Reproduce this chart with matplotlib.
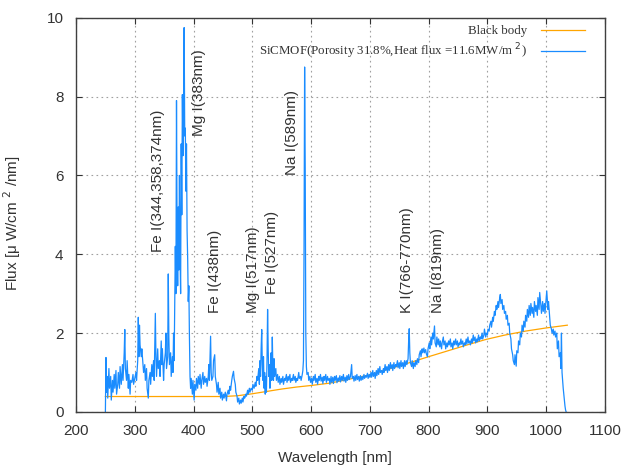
import matplotlib
matplotlib.use("Agg")
import matplotlib.pyplot as plt

# SiCMOF emission spectrum (nm, uW/cm2/nm)
wavelength = [
    250, 251, 252, 253, 254, 256, 257, 259, 260, 262, 263, 265, 266, 268, 269,
    271, 272, 274, 275, 277, 279, 280, 282, 283, 284, 286, 287, 289, 290, 292,
    293, 295, 297, 298, 300, 302, 303, 305, 306, 307, 308, 309, 311, 312, 314,
    315, 317, 318, 320, 321, 323, 324, 326, 327, 329, 330, 332, 333, 335, 336,
    337, 339, 340, 342, 343, 345, 346, 347, 349, 350, 352, 353, 354, 356, 357,
    358, 359, 361, 362, 364, 365, 366, 367, 368, 369, 370, 371, 372, 373, 374,
    375, 376, 377, 378, 379, 380, 381, 382, 383, 384, 385, 386, 387, 388, 389,
    390, 391, 392, 393, 394, 395, 396, 398, 399, 401, 402, 404, 405, 407, 408,
    410, 411, 413, 414, 416, 417, 419, 420, 422, 423, 425, 426, 427, 428, 429,
    430, 431, 433, 434, 436, 437, 439, 440, 442, 443, 445, 446, 448, 449, 451,
    452, 454, 456, 457, 459, 460, 462, 463, 465, 466, 468, 469, 471, 472, 474,
    475, 477, 478, 480, 481, 483, 484, 486, 487, 489, 490, 492, 493, 495, 496,
    498, 500, 501, 503, 505, 506, 508, 509, 511, 512, 513, 514, 515, 516, 517,
    518, 519, 520, 521, 522, 523, 524, 525, 526, 527, 528, 529, 530, 531, 532,
    533, 534, 535, 536, 537, 538, 540, 541, 543, 544, 546, 547, 549, 550, 552,
    553, 555, 556, 558, 559, 561, 562, 564, 565, 567, 568, 570, 571, 573, 574,
    576, 577, 579, 580, 582, 583, 585, 586, 587, 588, 589, 590, 591, 592, 593,
    595, 596, 598, 599, 601, 602, 604, 605, 607, 608, 610, 611, 613, 614, 616,
    617, 619, 620, 622, 623, 625, 626, 628, 629, 631, 632, 634, 635, 637, 638,
    640, 641, 643, 644, 646, 647, 649, 650, 652, 653, 655, 656, 658, 659, 661,
    662, 664, 665, 667, 668, 669, 670, 672, 673, 675, 676, 678, 679, 681, 682,
    684, 685, 687, 688, 690, 691, 693, 694, 696, 697, 699, 700, 702, 703, 705,
    706, 708, 709, 711, 712, 714, 715, 717, 718, 720, 721, 723, 724, 726, 727,
    729, 730, 732, 733, 735, 736, 738, 739, 741, 742, 744, 745, 747, 748, 750,
    751, 753, 754, 756, 757, 759, 760, 762, 763, 765, 766, 767, 768, 769, 771,
    772, 774, 775, 777, 778, 780, 781, 783, 784, 786, 787, 789, 790, 792, 793,
    795, 796, 798, 799, 801, 802, 804, 805, 807, 808, 810, 811, 813, 814, 816,
    817, 819, 820, 822, 823, 825, 826, 828, 829, 831, 832, 834, 835, 837, 838,
    840, 841, 843, 844, 846, 847, 849, 850, 852, 853, 855, 856, 858, 859, 861,
    862, 864, 865, 867, 868, 870, 871, 873, 874, 876, 877, 879, 880, 882, 883,
    885, 886, 888, 889, 891, 892, 894, 895, 897, 898, 900, 901, 903, 904, 906,
    907, 909, 910, 912, 913, 915, 916, 918, 919, 921, 922, 923, 925, 926, 928,
    929, 931, 932, 934, 935, 937, 938, 940, 941, 943, 944, 946, 947, 949, 950,
    952, 953, 955, 956, 958, 959, 961, 962, 964, 965, 967, 968, 970, 971, 973,
    974, 976, 977, 979, 980, 982, 983, 985, 986, 988, 989, 991, 992, 994, 995,
    997, 998, 1000, 1001, 1003, 1004, 1006, 1007, 1009, 1010, 1012, 1013, 1015,
    1016, 1018, 1019, 1021, 1022, 1024, 1025, 1026, 1027, 1028, 1029, 1030,
    1031, 1032, 1033, 1034,
]
flux = [
    0.0, 1.38, 0.5, 0.9, 0.35, 1.1, 0.6, 0.9, 0.3, 0.8, 0.5, 0.95, 0.6, 1.05, 0.45,
    0.7, 1.0, 0.6, 1.15, 0.7, 1.2, 0.8, 1.5, 2.09, 1.1, 0.8, 1.3, 0.6, 0.95, 0.45,
    0.8, 0.75, 0.95, 0.7, 0.85, 1.0, 0.8, 1.3, 2.4, 1.4, 2.2, 1.7, 1.4, 1.6, 1.2,
    1.0, 1.2, 0.8, 1.1, 0.6, 0.35, 0.8, 1.0, 0.7, 1.2, 0.9, 1.3, 0.8, 2.5, 1.4,
    0.9, 1.6, 1.1, 1.3, 0.9, 1.8, 1.2, 1.6, 0.8, 1.2, 1.5, 2.0, 1.1, 1.4, 3.5,
    1.9, 1.2, 1.5, 0.9, 1.4, 1.0, 2.0, 1.3, 2.8, 4.2, 3.0, 7.9, 4.5, 3.2, 5.2,
    3.6, 6.0, 4.0, 3.0, 6.8, 5.0, 8.05, 6.5, 7.5, 9.75, 7.0, 7.2, 5.6, 6.8, 4.6,
    3.9, 2.8, 3.2, 1.9, 0.9, 0.6, 0.85, 0.45, 0.8, 0.3, 0.7, 0.55, 0.85, 0.6, 0.9,
    0.7, 0.95, 0.6, 0.8, 1.0, 0.7, 0.9, 0.75, 0.85, 0.65, 0.9, 1.2, 0.8, 1.4, 1.92,
    1.0, 0.8, 0.9, 1.3, 1.45, 0.9, 0.7, 0.5, 0.75, 0.45, 0.6, 0.35, 0.5, 0.3, 0.45,
    0.35, 0.5, 0.28, 0.45, 0.55, 0.45, 0.65, 0.55, 0.8, 0.9, 1.03, 0.85, 0.7, 0.5, 0.4,
    0.25, 0.35, 0.2, 0.3, 0.22, 0.35, 0.25, 0.4, 0.35, 0.45, 0.4, 0.55, 0.45, 0.6, 0.5,
    0.6, 0.55, 0.7, 0.6, 0.75, 0.65, 0.9, 0.8, 1.1, 0.7, 1.3, 0.9, 1.6, 2.09, 1.2,
    0.8, 1.4, 0.6, 1.0, 0.45, 0.9, 0.5, 1.3, 2.6, 1.6, 0.9, 1.2, 0.6, 1.0, 1.5,
    0.8, 1.9, 1.1, 0.8, 1.35, 0.9, 1.1, 0.8, 0.95, 0.75, 0.9, 0.7, 0.85, 0.75, 0.9,
    0.7, 0.85, 0.8, 0.95, 0.75, 0.9, 0.8, 0.95, 0.75, 0.85, 0.8, 0.95, 0.8, 0.9, 0.75,
    0.85, 0.8, 1.0, 0.85, 0.9, 0.8, 0.95, 1.05, 1.3, 4.1, 8.75, 6.2, 2.0, 1.15, 0.95,
    1.0, 0.8, 0.9, 0.75, 0.85, 0.7, 0.9, 0.8, 0.95, 0.75, 0.85, 0.7, 0.9, 0.8, 0.95,
    0.78, 0.88, 0.72, 0.9, 0.8, 0.95, 0.75, 0.9, 0.8, 0.85, 0.7, 0.9, 0.75, 0.88, 0.72,
    0.9, 0.8, 0.92, 0.74, 0.86, 0.78, 0.92, 0.76, 0.9, 0.8, 0.95, 0.78, 0.88, 0.75, 0.92,
    0.8, 0.95, 0.82, 0.9, 1.05, 1.2, 0.85, 0.9, 0.78, 0.92, 0.8, 0.95, 0.82, 0.9, 0.78,
    0.92, 0.8, 0.9, 0.82, 0.95, 0.85, 0.92, 0.88, 0.98, 0.85, 0.95, 0.88, 1.0, 0.88, 1.05,
    0.9, 1.0, 0.85, 1.05, 0.92, 1.1, 0.95, 1.15, 1.0, 1.05, 0.95, 1.1, 1.0, 1.2, 1.05,
    1.15, 1.0, 1.2, 1.05, 1.25, 1.1, 1.2, 1.05, 1.25, 1.1, 1.2, 1.15, 1.3, 1.12, 1.25,
    1.1, 1.3, 1.15, 1.25, 1.1, 1.3, 1.15, 1.3, 1.2, 1.35, 1.8, 2.11, 1.5, 1.25, 1.15,
    1.3, 1.1, 1.25, 1.15, 1.3, 1.2, 1.35, 1.25, 1.45, 1.55, 1.4, 1.6, 1.5, 1.62, 1.5,
    1.58, 1.48, 1.4, 1.6, 1.75, 1.6, 1.9, 1.7, 2.0, 1.85, 2.18, 1.75, 1.65, 1.9, 1.7,
    1.85, 1.65, 1.8, 1.6, 1.75, 1.9, 1.7, 1.8, 1.6, 1.75, 1.65, 1.8, 1.7, 1.85, 1.65,
    1.75, 1.6, 1.8, 1.7, 1.85, 1.7, 1.8, 1.65, 1.75, 1.7, 1.85, 1.72, 1.8, 1.65, 1.75,
    1.7, 1.85, 1.72, 1.9, 1.75, 1.8, 1.7, 1.85, 1.75, 1.95, 1.8, 1.9, 1.75, 1.85, 1.78,
    1.95, 1.8, 1.9, 1.85, 2.0, 1.85, 1.95, 2.1, 1.9, 2.0, 1.95, 2.1, 2.05, 2.2, 2.3,
    2.15, 2.4, 2.3, 2.55, 2.45, 2.7, 2.6, 2.8, 2.65, 2.9, 2.98, 2.75, 2.85, 2.6, 2.7,
    2.5, 2.55, 2.35, 2.45, 2.2, 2.25, 2.0, 1.85, 1.6, 1.45, 1.3, 1.2, 1.45, 1.16, 1.55,
    1.5, 1.8, 1.7, 2.0, 1.9, 2.2, 2.05, 2.3, 2.15, 2.45, 2.3, 2.6, 2.4, 2.7, 2.45,
    2.75, 2.5, 2.65, 2.4, 2.8, 2.55, 2.7, 2.45, 2.9, 2.6, 3.03, 2.7, 2.5, 2.8, 2.55,
    2.75, 2.5, 2.9, 3.07, 2.6, 2.8, 2.4, 2.2, 2.1, 2.0, 2.1, 1.95, 2.05,
    1.9, 2.0, 1.6, 1.8, 1.4, 1.5, 1.1, 2.0, 1.0, 0.8, 0.6, 0.45,
    0.3, 0.15, 0.05, 0.0,
]

# black-body reference curve
bb_wavelength = [250, 300, 350, 400, 450, 475, 500, 525, 550, 575, 600, 632,
                 665, 700, 735, 770, 802, 835, 868, 898, 930, 965, 1000, 1036]
bb_flux = [0.39, 0.39, 0.39, 0.39, 0.39, 0.41, 0.46, 0.52, 0.58, 0.63, 0.67,
           0.73, 0.83, 0.94, 1.1, 1.26, 1.41, 1.56, 1.71, 1.84, 1.95, 2.05,
           2.13, 2.2]

# emission line annotations
line_labels = ["Fe I(344,358,374nm)", "Mg I(383nm)", "Fe I(438nm)",
               "Mg I(517nm)", "Fe I(527nm)", "Na I(589nm)",
               "K I(766-770nm)", "Na I(819nm)"]
label_x = [340, 409, 436, 502, 533, 568, 763, 816]
label_y = [4.05, 7.0, 2.52, 2.52, 3.0, 6.0, 2.52, 2.52]

plt.rcParams["font.family"] = ["Liberation Sans", "DejaVu Sans"]
TXT = "#333333"

fig = plt.figure(figsize=(6.23, 4.67), dpi=100)
ax = fig.add_axes([0.122, 0.118, 0.849, 0.844])

ax.plot(bb_wavelength, bb_flux, color="#ffa500", lw=0.9, label="Black body")
ax.plot(wavelength, flux, color="#1a8cff", lw=0.9,
        label="SiCMOF(Porosity 31.8%,Heat flux =11.6MW/m $^{2}$)")

for txt, x, y in zip(line_labels, label_x, label_y):
    ax.text(x, y, txt, rotation=90, ha="center", va="bottom",
            fontsize=11, color=TXT)

ax.set_xlim(200, 1100)
ax.set_ylim(0, 10)
ax.set_xticks(range(200, 1101, 100))
ax.set_yticks(range(0, 11, 2))
ax.tick_params(direction="in", top=True, right=True, length=4, width=0.8,
               labelsize=11, labelcolor=TXT, color="#333333")
ax.tick_params(axis="x", pad=9)
ax.tick_params(axis="y", pad=9)
ax.grid(True, color="#a0a0a0", ls=(0, (1.5, 3)), lw=0.8)
for s in ax.spines.values():
    s.set_color("#404040")
    s.set_linewidth(1.0)

ax.set_xlabel("Wavelength [nm]", fontsize=11, color=TXT)
ax.xaxis.set_label_coords(0.49, -0.099)
ax.set_ylabel("Flux [μ W/cm $^{2}$ /nm]", fontsize=11, color=TXT)
ax.yaxis.set_label_coords(-0.101, 0.48)

leg = ax.legend(loc="upper right", bbox_to_anchor=(0.985, 1.01),
                frameon=False, markerfirst=False, handlelength=3.4,
                handletextpad=1.1, labelspacing=0.3,
                prop={"family": "Liberation Serif", "size": 9.3})
for t in leg.get_texts():
    t.set_color(TXT)

fig.savefig("out.png", dpi=100)
